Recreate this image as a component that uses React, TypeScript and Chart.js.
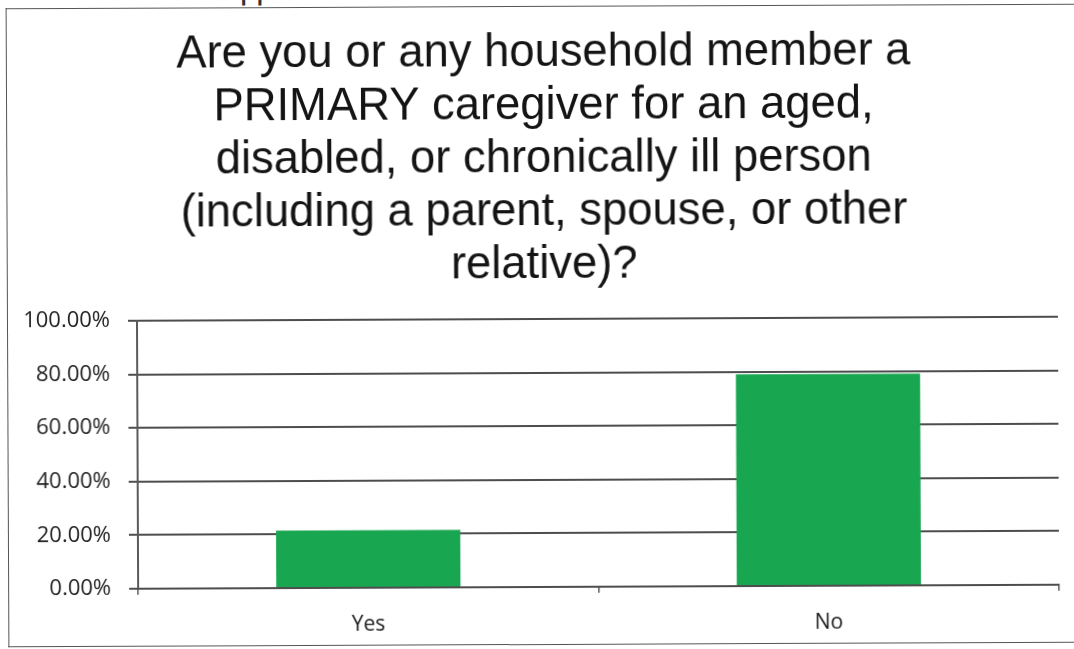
import React, { useEffect, useRef } from "react";
import { Chart, registerables } from "chart.js";

Chart.register(...registerables);

const categories = ["Yes", "No"];
const percentages = [21.5, 79.0];
const yTickMax = 100;
const yTickStep = 20;
const titleLines = [
  "Are you or any household member a",
  "PRIMARY caregiver for an aged,",
  "disabled, or chronically ill person",
  "(including a parent, spouse, or other",
  "relative)?",
];

const widenLabelArea = {
  id: "widenLabelArea",
  afterLayout(chart: any) {
    const y = chart.scales.y;
    if (y) y.left = 0;
  },
};

export default function App() {
  const canvasRef = useRef<HTMLCanvasElement | null>(null);

  useEffect(() => {
    const canvas = canvasRef.current;
    if (!canvas) return;
    const chart = new Chart(canvas, {
      type: "bar",
      data: {
        labels: categories,
        datasets: [
          {
            data: percentages,
            backgroundColor: "#19a651",
            borderWidth: 0,
            categoryPercentage: 0.5,
            barPercentage: 0.8,
          },
        ],
      },
      plugins: [widenLabelArea],
      options: {
        responsive: false,
        animation: false,
        layout: { padding: { left: 31, right: 16, top: 0, bottom: 0 } },
        plugins: {
          legend: { display: false },
          tooltip: { enabled: false },
          title: {
            display: true,
            text: titleLines,
            color: "#141414",
            font: { family: "'Liberation Sans', Arial, sans-serif", size: 45.4, weight: "normal", lineHeight: 53 / 45.4 },
            padding: { top: 27, bottom: 27 },
          },
        },
        scales: {
          y: {
            min: 0,
            max: yTickMax,
            afterFit: (s: any) => {
              s.width = 106;
            },
            ticks: {
              stepSize: yTickStep,
              color: "#222",
              padding: 18,
              font: { family: "'Open Sans', sans-serif", size: 22 },
              callback: (v: any) => Number(v).toFixed(2) + "%",
            },
            grid: { color: "#4d4d4d", lineWidth: 2, tickLength: 9, drawTicks: true },
            border: { display: true, color: "#5a5a5a", width: 2 },
          },
          x: {
            afterFit: (s: any) => {
              s.height = 62;
            },
            ticks: {
              color: "#1a1a1a",
              padding: 18,
              font: { family: "'Open Sans', sans-serif", size: 21 },
            },
            grid: { display: true, drawOnChartArea: false, drawTicks: true, tickLength: 6, offset: true, color: "#5a5a5a", lineWidth: 1.5 },
            border: { display: true, color: "#4d4d4d", width: 2 },
          },
        },
      },
    });
    return () => chart.destroy();
  }, []);

  return (
    <div style={{ position: "fixed", left: 0, top: 0, width: 1074, height: 649, overflow: "hidden", background: "#fff" }}>
      <div style={{ position: "absolute", left: 0, top: 0, width: 1074, height: 649, transform: "rotate(-0.25deg)" }}>
        <div
          style={{
            position: "absolute",
            left: 205,
            top: -30,
            fontFamily: "'Open Sans', sans-serif",
            fontWeight: 600,
            fontSize: 26,
            color: "#333",
            lineHeight: "normal",
          }}
        >
          Skipped
        </div>
        <div
          style={{
            position: "absolute",
            left: 7,
            top: 6,
            width: 1110,
            height: 637,
            borderTop: "1.5px solid #555",
            borderLeft: "1.5px solid #555",
            borderBottom: "1.5px solid #555",
          }}
        />
        <canvas ref={canvasRef} width={1074} height={649} style={{ position: "absolute", left: 0, top: 0 }} />
      </div>
    </div>
  );
}
